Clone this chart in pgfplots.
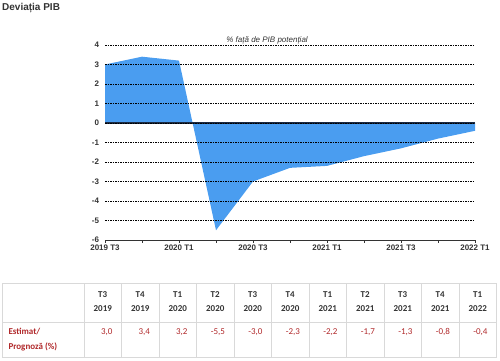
\documentclass[border=0pt]{standalone}
\usepackage{pgfplots}
\pgfplotsset{compat=1.18}
\usepackage{fontspec}
\setmainfont{Liberation Sans}
\newfontfamily\calfont{Carlito}
\definecolor{areablue}{HTML}{4A9DF0}
\definecolor{txtgray}{HTML}{333333}
\definecolor{redtxt}{HTML}{B0282A}
\definecolor{linegray}{HTML}{D9D9D9}
\definecolor{zeroline}{HTML}{1A2A44}
\begin{document}
\begin{tikzpicture}[x=1pt,y=1pt]
\path[use as bounding box] (0,0) rectangle (500,360);
\node[anchor=west, font=\bfseries\fontsize{10}{12}\selectfont, text=txtgray, inner sep=0] at (2,352) {Deviația PIB};
\begin{axis}[
  at={(105pt,120pt)}, anchor=south west,
  scale only axis, width=370pt, height=195pt,
  xmin=0, xmax=10, ymin=-6, ymax=4,
  axis x line*=bottom, axis y line*=left,
  y axis line style={draw=none},
  x axis line style={draw=txtgray, line width=0.6pt},
  xtick={0,...,10},
  xticklabels={2019 T3,,2020 T1,,2020 T3,,2021 T1,,2021 T3,,2022 T1},
  ytick={-6,...,4},
  ytick style={draw=none},
  xtick style={draw=txtgray, line width=0.5pt},
  tick align=outside, major tick length=2.5pt,
  ymajorgrids,
  grid style={black, dash pattern=on 1.5pt off 1pt, line width=0.4pt},
  tick label style={font=\bfseries\fontsize{8}{9}\selectfont, text=txtgray},
  xticklabel style={yshift=1pt},
  /pgf/number format/assume math mode=true,
  axis on top,
  clip=false,
]
\addplot[fill=areablue, draw=none] coordinates {(0,0) (0,3.0) (1,3.4) (2,3.2) (3,-5.5) (4,-3.0) (5,-2.3) (6,-2.2) (7,-1.7) (8,-1.3) (9,-0.8) (10,-0.4) (10,0)} \closedcycle;
\addplot[zeroline, line width=1.4pt] coordinates {(0,0) (10,0)};
\node[anchor=south, font=\itshape\fontsize{8}{9}\selectfont, text=txtgray, inner sep=1pt] at (axis cs:4.38,4.0) {\% față de PIB potențial};
\end{axis}
% table
\draw[linegray, line width=0.6pt] (2,77) -- (497,77) (2,38) -- (497,38) (2,3) -- (497,3);
\draw[linegray, line width=0.6pt] (2,77) -- (2,3);
\foreach \i in {0,...,11} { \draw[linegray, line width=0.6pt] ({84+37.5*\i},77) -- ({84+37.5*\i},3); }
\foreach \q/\yr/\v [count=\i from 0] in {T3/2019/3{,}0, T4/2019/3{,}4, T1/2020/3{,}2, T2/2020/-5{,}5, T3/2020/-3{,}0, T4/2020/-2{,}3, T1/2021/-2{,}2, T2/2021/-1{,}7, T3/2021/-1{,}3, T4/2021/-0{,}8, T1/2022/-0{,}4} {
  \node[font=\calfont\bfseries\fontsize{9}{10}\selectfont, text=txtgray] at ({102.75+37.5*\i},65) {\q};
  \node[font=\calfont\bfseries\fontsize{9}{10}\selectfont, text=txtgray] at ({102.75+37.5*\i},51) {\yr};
  \node[anchor=east, font=\calfont\fontsize{9}{10}\selectfont, text=redtxt] at ({122+37.5*\i-6},28) {\v};
}
\node[anchor=west, font=\calfont\bfseries\fontsize{9}{10}\selectfont, text=redtxt] at (5,28) {Estimat/};
\node[anchor=west, font=\calfont\bfseries\fontsize{9}{10}\selectfont, text=redtxt] at (5,13) {Prognoză (\%)};
\end{tikzpicture}
\end{document}
